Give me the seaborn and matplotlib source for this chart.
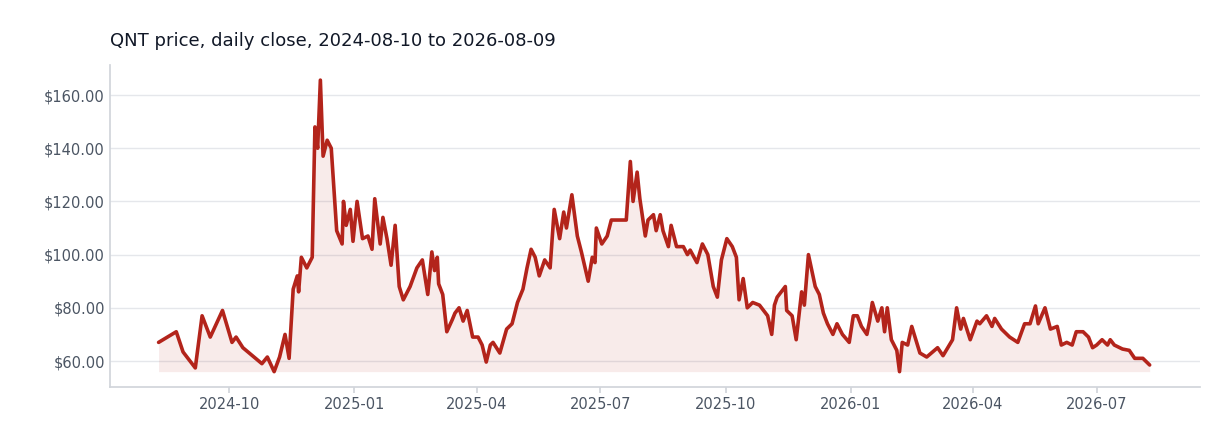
import pandas as pd
import matplotlib
matplotlib.use("Agg")
import matplotlib.pyplot as plt
import matplotlib.dates as mdates
from matplotlib.ticker import FuncFormatter
import seaborn as sns

start_date = "2024-08-10"
day_offsets = [0,13,18,27,32,38,47,54,57,62,76,80,85,89,93,96,99,102,103,105,109,113,115,117,119,121,124,127,131,135,136,138,141,143,146,150,154,157,159,163,165,168,171,174,177,180,185,190,194,
198,201,203,205,206,209,212,216,218,221,224,227,231,235,238,241,244,246,251,256,260,264,268,271,274,277,280,284,288,291,295,298,300,304,308,311,316,319,321,322,326,330,333,337,341,344,347,349,352,354,358,360,364,366,369,371,375,377,381,386,389,
391,396,400,404,408,411,414,418,422,425,427,430,433,437,442,448,451,453,455,461,462,466,469,473,475,478,483,486,489,492,496,499,503,508,511,514,517,521,523,525,529,532,534,536,539,543,545,547,551,554,560,565,
573,577,584,587,590,592,597,602,604,609,613,615,620,626,632,637,641,645,647,652,656,661,664,668,672,675,680,684,687,690,694,698,700,703,709,714,718,724,729]
prices = [67,71,63.4,57.4,77,69,79,67,69,65,59,61.5,56,61.5,70,61,87,92,86,99,95,99,148,140,165.6,137,143,140,109,104,120,111,117,105,120,106,107,102,121,104,114,106,96,111,88,83,88,95,98,
85,101,94,99,89,85,71,75.5,78,80,75,79,69,69,66,59.6,66,67,63,72,74,82,87,95,102,99,92,98,95,117,106,116,110,122.5,107,101,90,99,97,110,104,107,113,113,113,113,135,120,131,121,107,113,115,109,115,109,103,111,103,103,100,
101.7,97,104,100,88,84,98,106,103,99,83,91,80,82,81,77,70,81,84,88,79,77,68,86,81,100,88,85,78,74,70,74,70,67,77,77,73,70,75,82,75,80,71,80,68,64,56,67,66,73,63,61.5,
65,62,68,80,72,76,68,75,74,77,73,76,72,69,67,74,74,80.7,74,80,72,73,66,67,66,71,71,69,65,66,68,66,68,66,64.5,64,61,61,58.5]
title = "QNT price, daily close, 2024-08-10 to 2026-08-09"

dates = pd.to_datetime(start_date) + pd.to_timedelta(day_offsets, unit="D")
df = pd.DataFrame({"date": dates, "price": prices})

sns.set_theme(style="white")
fig = plt.figure(figsize=(12.32, 4.48), dpi=100)
ax = fig.add_axes([0.089, 0.136, 0.885, 0.719])
color = "#b3241b"
ax.fill_between(df["date"], df["price"], df["price"].min(), color=color, alpha=0.09, linewidth=0)
sns.lineplot(data=df, x="date", y="price", ax=ax, color=color, linewidth=2.6)

ax.set_ylim(50.2, 171.3)
ax.set_xlim(pd.Timestamp(start_date) - pd.Timedelta(days=36), pd.Timestamp(start_date) + pd.Timedelta(days=766))
ax.set_yticks([60, 80, 100, 120, 140, 160])
ax.yaxis.set_major_formatter(FuncFormatter(lambda v, p: f"${v:.2f}"))
ax.xaxis.set_major_locator(mdates.MonthLocator(bymonth=[1, 4, 7, 10]))
ax.xaxis.set_major_formatter(mdates.DateFormatter("%Y-%m"))
ax.grid(axis="y", color="#e5e7eb", linewidth=1)
ax.set_axisbelow(True)
for s in ["top", "right"]:
    ax.spines[s].set_visible(False)
for s in ["left", "bottom"]:
    ax.spines[s].set_color("#d1d5db")
ax.tick_params(axis="both", colors="#4b5563", labelsize=10.5, length=4, color="#d1d5db", left=False, bottom=True)
ax.tick_params(axis="y", length=0)
ax.set_xlabel("")
ax.set_ylabel("")
ax.set_title(title, loc="left", fontsize=13, color="#111827", pad=14)
fig.savefig("out.png", dpi=100)
